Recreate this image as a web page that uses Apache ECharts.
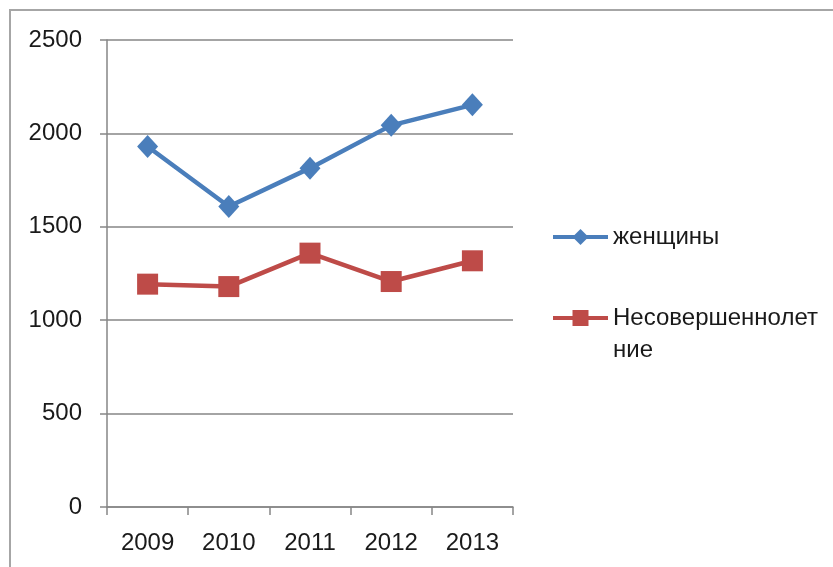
<!DOCTYPE html>
<html><head><meta charset="utf-8">
<script src="https://cdn.jsdelivr.net/npm/echarts@6/dist/echarts.min.js"></script>
<style>html,body{margin:0;padding:0;background:#fff}#c{width:833px;height:567px}</style>
</head><body><div id="c"></div>
<script>
const categories = ['2009', '2010', '2011', '2012', '2013'];
const women = [1930, 1609, 1814, 2043, 2153];
const minors = [1193, 1180, 1359, 1207, 1318];
const seriesNames = ['женщины', 'Несовершеннолетние'];
const yTicks = { min: 0, max: 2500, interval: 500 };

const FONT = 'Liberation Sans';
const TXT = '#1a1a1a';
const chart = echarts.init(document.getElementById('c'));
const legendBase = { left: 551, padding: 0, itemWidth: 55, itemHeight: 20, itemGap: 0,
  lineStyle: { width: 4 },
  textStyle: { fontFamily: FONT, fontSize: 24, color: TXT, lineHeight: 32 } };
chart.setOption({
  animation: false,
  graphic: [{ type: 'rect', shape: { x: 10, y: 10, width: 900, height: 700 }, style: { fill: 'none', stroke: '#a6a6a6', lineWidth: 2 }, silent: true }],
  grid: { left: 107, right: 320, top: 40, bottom: 60, containLabel: false },
  legend: [
    Object.assign({}, legendBase, { data: [seriesNames[0]], top: 221 }),
    Object.assign({}, legendBase, { data: [seriesNames[1]], top: 270,
      formatter: n => n === 'Несовершеннолетние' ? ' \nНесовершеннолет\nние' : n })
  ],
  xAxis: {
    type: 'category', data: categories, boundaryGap: true,
    axisLine: { lineStyle: { color: '#868686', width: 1.5 } },
    axisTick: { show: true, length: 8, lineStyle: { color: '#868686', width: 1.5 } },
    axisLabel: { fontFamily: FONT, fontSize: 24, color: TXT, margin: 24 }
  },
  yAxis: {
    type: 'value', min: yTicks.min, max: yTicks.max, interval: yTicks.interval,
    axisLine: { show: true, lineStyle: { color: '#868686', width: 1.5 } },
    axisTick: { show: true, length: 7, lineStyle: { color: '#868686', width: 1.5 } },
    splitLine: { lineStyle: { color: '#868686', width: 1.5 } },
    axisLabel: { fontFamily: FONT, fontSize: 24, color: TXT, margin: 25, formatter: v => String(v) }
  },
  series: [
    { name: seriesNames[0], type: 'line', data: women, symbol: 'diamond', symbolSize: [21, 23],
      lineStyle: { color: '#4A7EBB', width: 4.5 }, itemStyle: { color: '#4A7EBB' } },
    { name: seriesNames[1], type: 'line', data: minors, symbol: 'rect', symbolSize: 21,
      lineStyle: { color: '#BE4B48', width: 4.5 }, itemStyle: { color: '#BE4B48' } }
  ]
});
</script></body></html>
